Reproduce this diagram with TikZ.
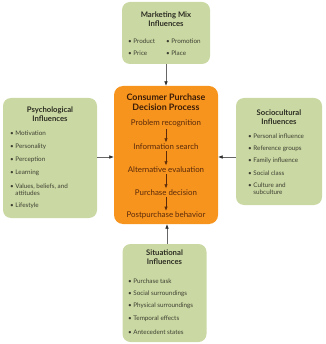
\documentclass[tikz,border=0pt]{standalone}
\usepackage{fontspec}
\setmainfont{Lato}
\usetikzlibrary{arrows.meta}
\definecolor{boxgreen}{RGB}{202,217,163}
\definecolor{boxorange}{RGB}{247,148,30}
\definecolor{titlegray}{RGB}{45,45,35}
\definecolor{itemgray}{RGB}{62,62,50}
\definecolor{stepbrown}{RGB}{90,42,10}
\definecolor{titlebrown}{RGB}{60,28,6}
\tikzset{
  greenbox/.style={fill=boxgreen, rounded corners=8pt, inner sep=0pt},
  orangebox/.style={fill=boxorange, rounded corners=9pt, inner sep=0pt},
  ttl/.style={font=\bfseries\fontsize{7.7}{9}\selectfont, text=titlegray, align=center, inner sep=0pt},
  itm/.style={font=\fontsize{6.3}{7.4}\selectfont, text=itemgray, anchor=west, align=left, inner sep=0pt},
  otitle/.style={font=\bfseries\fontsize{8.9}{10}\selectfont, text=titlebrown, align=center, inner sep=0pt},
  ostep/.style={font=\fontsize{7.9}{9}\selectfont, text=stepbrown, inner sep=0pt},
  conn/.style={draw=black!60, line width=0.6pt, -{Latex[length=4.5pt,width=3.6pt,color=black!85]}},
  sarrow/.style={draw=stepbrown, line width=0.6pt, shorten <=1.5pt, shorten >=1pt, -{Latex[length=4pt,width=3.4pt]}}
}
\begin{document}
\begin{tikzpicture}[x=1pt,y=-1pt]
\useasboundingbox (0,0) rectangle (325,344);
% boxes
\node[greenbox, minimum width=88pt, minimum height=62pt] (top) at (166,33) {};
\node[orangebox, minimum width=104pt, minimum height=138pt] (mid) at (166,155) {};
\node[greenbox, minimum width=94pt, minimum height=120pt] (left) at (50,158) {};
\node[greenbox, minimum width=86pt, minimum height=107pt] (right) at (279,151.5) {};
\node[greenbox, minimum width=84pt, minimum height=98pt] (bot) at (164.5,293) {};
% top text
\node[ttl] (tt) at (166,19.5) {Marketing Mix\\Influences};
\node[itm] (t1) at (128,41) {• Product};
\node[itm] (t2) at (166,41) {• Promotion};
\node[itm] (t3) at (128,53) {• Price};
\node[itm] (t4) at (166,53) {• Place};
% left text
\node[ttl] (lt) at (50,114) {Psychological\\Influences};
\node[itm] (l1) at (10,133) {• Motivation};
\node[itm] (l2) at (10,146.5) {• Personality};
\node[itm] (l3) at (10,160) {• Perception};
\node[itm] (l4) at (10,173) {• Learning};
\node[itm] (l5) at (10,189.5) {• Values, beliefs, and\\\hphantom{• }attitudes};
\node[itm] (l6) at (10,206) {• Lifestyle};
% right text
\node[ttl] (rt) at (279,117) {Sociocultural\\Influences};
\node[itm] (r1) at (248,136) {• Personal influence};
\node[itm] (r2) at (248,148.5) {• Reference groups};
\node[itm] (r3) at (248,161) {• Family influence};
\node[itm] (r4) at (248,173) {• Social class};
\node[itm] (r5) at (248,189) {• Culture and\\\hphantom{• }subculture};
% bottom text
\node[ttl] (bt) at (164.5,257.5) {Situational\\Influences};
\node[itm] (b1) at (128,281) {• Purchase task};
\node[itm] (b2) at (128,293.5) {• Social surroundings};
\node[itm] (b3) at (128,306) {• Physical surroundings};
\node[itm] (b4) at (128,319) {• Temporal effects};
\node[itm] (b5) at (128,332) {• Antecedent states};
% center text
\node[otitle] (mt) at (166,102) {Consumer Purchase\\Decision Process};
\node[ostep] (s1) at (166,123.5) {Problem recognition};
\node[ostep] (s2) at (166,146.5) {Information search};
\node[ostep] (s3) at (166,169.5) {Alternative evaluation};
\node[ostep] (s4) at (166,192.5) {Purchase decision};
\node[ostep] (s5) at (166,215.5) {Postpurchase behavior};
\draw[sarrow] (s1) -- (s2);
\draw[sarrow] (s2) -- (s3);
\draw[sarrow] (s3) -- (s4);
\draw[sarrow] (s4) -- (s5);
% connectors
\draw[conn] (top.south) -- (mid.north);
\draw[conn] (left.east |- 0,157) -- (mid.west |- 0,157);
\draw[conn] (right.west |- 0,157) -- (mid.east |- 0,157);
\draw[conn] (bot.north -| 167,0) -- (mid.south -| 167,0);
\end{tikzpicture}
\end{document}
